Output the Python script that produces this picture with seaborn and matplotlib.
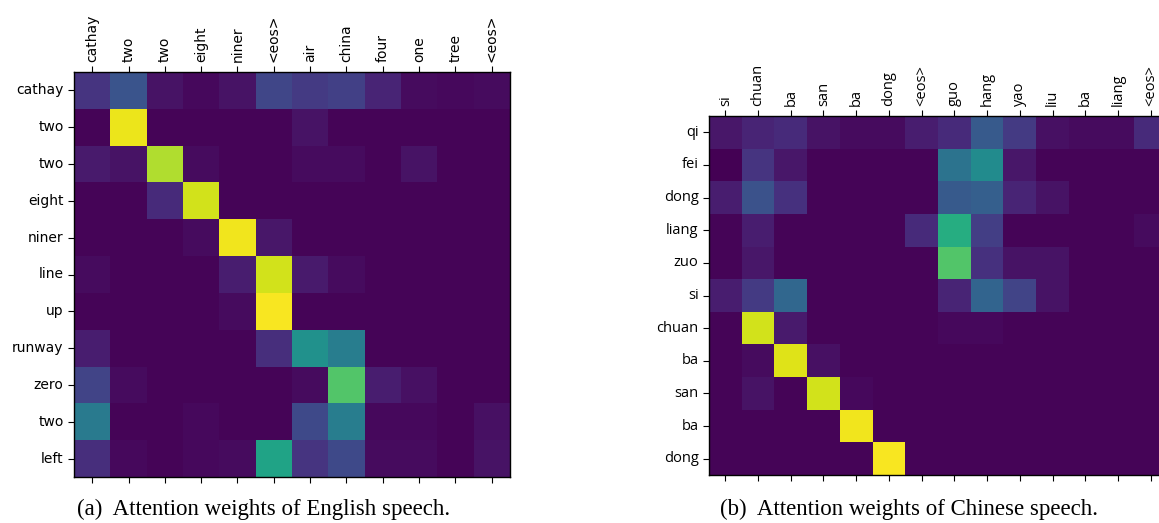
import numpy as np
import pandas as pd
import seaborn as sns
import matplotlib.pyplot as plt

# English speech attention
en_out = ['cathay', 'two', 'two', 'eight', 'niner', 'line', 'up',
          'runway', 'zero', 'two', 'left']
en_in = ['cathay', 'two', 'two', 'eight', 'niner', '<eos>', 'air',
         'china', 'four', 'one', 'tree', '<eos>']
en_w = [
    [0.15, 0.26, 0.05, 0.02, 0.05, 0.21, 0.17, 0.19, 0.10, 0.03, 0.02, 0.03],
    [0.01, 0.97, 0.01, 0.01, 0.01, 0.01, 0.05, 0.01, 0.01, 0.01, 0.01, 0.01],
    [0.07, 0.05, 0.88, 0.03, 0.01, 0.01, 0.03, 0.03, 0.01, 0.05, 0.01, 0.01],
    [0.01, 0.01, 0.12, 0.93, 0.01, 0.01, 0.01, 0.01, 0.01, 0.01, 0.01, 0.01],
    [0.01, 0.01, 0.01, 0.03, 0.98, 0.06, 0.01, 0.01, 0.01, 0.01, 0.01, 0.01],
    [0.03, 0.01, 0.01, 0.01, 0.08, 0.93, 0.07, 0.03, 0.01, 0.01, 0.01, 0.01],
    [0.01, 0.01, 0.01, 0.01, 0.03, 0.99, 0.01, 0.01, 0.01, 0.01, 0.01, 0.01],
    [0.08, 0.01, 0.01, 0.01, 0.01, 0.13, 0.50, 0.42, 0.01, 0.01, 0.01, 0.01],
    [0.20, 0.03, 0.01, 0.01, 0.01, 0.01, 0.03, 0.73, 0.08, 0.04, 0.01, 0.01],
    [0.41, 0.01, 0.01, 0.02, 0.01, 0.01, 0.22, 0.42, 0.02, 0.02, 0.01, 0.04],
    [0.13, 0.02, 0.01, 0.02, 0.03, 0.58, 0.15, 0.22, 0.03, 0.03, 0.01, 0.05],
]

# Chinese speech attention
zh_out = ['qi', 'fei', 'dong', 'liang', 'zuo', 'si', 'chuan', 'ba',
          'san', 'ba', 'dong']
zh_in = ['si', 'chuan', 'ba', 'san', 'ba', 'dong', '<eos>', 'guo', 'hang',
         'yao', 'liu', 'ba', 'liang', '<eos>']
zh_w = [
    [0.06, 0.10, 0.12, 0.05, 0.03, 0.03, 0.08, 0.12, 0.28, 0.17, 0.04, 0.03, 0.03, 0.12],
    [0.00, 0.15, 0.06, 0.01, 0.01, 0.01, 0.01, 0.38, 0.48, 0.06, 0.01, 0.01, 0.01, 0.01],
    [0.08, 0.25, 0.14, 0.01, 0.01, 0.01, 0.01, 0.28, 0.30, 0.10, 0.05, 0.01, 0.01, 0.01],
    [0.01, 0.08, 0.01, 0.01, 0.01, 0.01, 0.12, 0.62, 0.18, 0.01, 0.01, 0.01, 0.01, 0.03],
    [0.01, 0.06, 0.01, 0.01, 0.01, 0.01, 0.01, 0.73, 0.14, 0.05, 0.05, 0.01, 0.01, 0.01],
    [0.08, 0.17, 0.33, 0.01, 0.01, 0.01, 0.01, 0.10, 0.32, 0.20, 0.05, 0.01, 0.01, 0.01],
    [0.01, 0.93, 0.07, 0.01, 0.01, 0.01, 0.01, 0.02, 0.02, 0.01, 0.01, 0.01, 0.01, 0.01],
    [0.01, 0.03, 0.95, 0.04, 0.01, 0.01, 0.01, 0.01, 0.01, 0.01, 0.01, 0.01, 0.01, 0.01],
    [0.01, 0.05, 0.01, 0.93, 0.02, 0.01, 0.01, 0.01, 0.01, 0.01, 0.01, 0.01, 0.01, 0.01],
    [0.01, 0.01, 0.01, 0.01, 0.98, 0.01, 0.01, 0.01, 0.01, 0.01, 0.01, 0.01, 0.01, 0.01],
    [0.01, 0.01, 0.01, 0.01, 0.01, 0.99, 0.01, 0.01, 0.01, 0.01, 0.01, 0.01, 0.01, 0.01],
]

W, H = 1159, 523
fig = plt.figure(figsize=(W / 100, H / 100), dpi=100)

ax1 = fig.add_axes([74 / W, 1 - 477 / H, 436 / W, 405 / H])
ax2 = fig.add_axes([709 / W, 1 - 475 / H, 458 / W, 359 / H])


def draw(ax, w, rows, cols, font, fs):
    df = pd.DataFrame(np.array(w), index=range(len(rows)), columns=range(len(cols)))
    sns.heatmap(df, cmap='viridis', vmin=0, vmax=1, cbar=False, ax=ax)
    ax.set_xticks(np.arange(len(cols)) + 0.5)
    ax.set_yticks(np.arange(len(rows)) + 0.5)
    ax.set_xticklabels(cols, rotation=90, fontsize=fs, family=font)
    ax.set_yticklabels(rows, rotation=0, fontsize=fs, family=font)
    ax.tick_params(top=True, bottom=True, labeltop=True, labelbottom=False,
                   left=True, right=False, length=4, width=0.8, colors='black')
    for s in ax.spines.values():
        s.set_visible(True)
        s.set_linewidth(1.0)
    ax.set_xlabel('')
    ax.set_ylabel('')


draw(ax1, en_w, en_out, en_in, 'DejaVu Sans', 10)
draw(ax2, zh_w, zh_out, zh_in, 'Open Sans', 10.5)

fig.text(77 / W, 1 - 509 / H, '(a)  Attention weights of English speech.',
         family='Liberation Serif', fontsize=16.5, va='center', ha='left')
fig.text(720 / W, 1 - 509 / H, '(b)  Attention weights of Chinese speech.',
         family='Liberation Serif', fontsize=16.5, va='center', ha='left')

fig.savefig('out.png', dpi=100)
